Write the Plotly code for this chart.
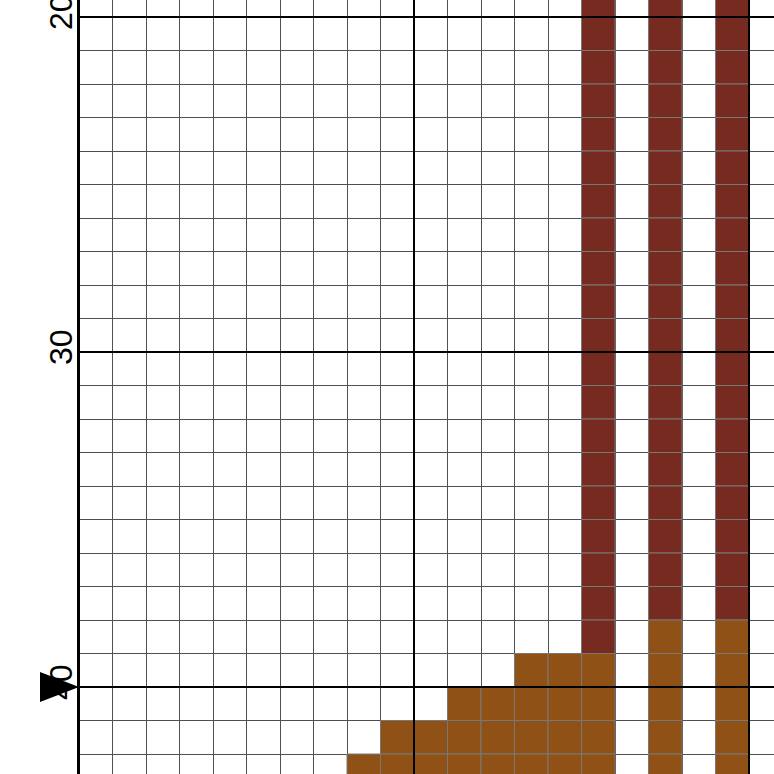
import plotly.graph_objects as go

# stitch chart: one string per row, one character per column
# "." empty, "R" dark red thread, "B" brown thread
first_row = 19
stitch_rows = [
    "...............R.R.R.",  # 19
    "...............R.R.R.",  # 20
    "...............R.R.R.",  # 21
    "...............R.R.R.",  # 22
    "...............R.R.R.",  # 23
    "...............R.R.R.",  # 24
    "...............R.R.R.",  # 25
    "...............R.R.R.",  # 26
    "...............R.R.R.",  # 27
    "...............R.R.R.",  # 28
    "...............R.R.R.",  # 29
    "...............R.R.R.",  # 30
    "...............R.R.R.",  # 31
    "...............R.R.R.",  # 32
    "...............R.R.R.",  # 33
    "...............R.R.R.",  # 34
    "...............R.R.R.",  # 35
    "...............R.R.R.",  # 36
    "...............R.R.R.",  # 37
    "...............R.B.B.",  # 38
    ".............BBB.B.B.",  # 39
    "...........BBBBB.B.B.",  # 40
    ".........BBBBBBB.B.B.",  # 41
    "........BBBBBBBB.B.B.",  # 42
]
thread_colors = {"R": "#772A1F", "B": "#8F5116"}
y_ticks = [20, 30, 40]
x_majors = [0, 10, 20]
center_row = 40

cell_px = 33.5
fig_size = 774
left_margin = 79
top_value = 19.4925

cells = {k: ([], []) for k in thread_colors}
for i, line in enumerate(stitch_rows):
    for c, ch in enumerate(line):
        if ch in cells:
            cells[ch][0].append(c + 0.5)
            cells[ch][1].append(first_row + i + 0.5)

fig = go.Figure()
for key, (xs, ys) in cells.items():
    fig.add_trace(go.Scatter(
        x=xs, y=ys, mode="markers",
        marker=dict(symbol="square", size=cell_px, color=thread_colors[key],
                    line=dict(color="#787878", width=1)),
        hoverinfo="skip", showlegend=False,
    ))

# heavy lines every 10 stitches, drawn over the stitches
for v in x_majors:
    fig.add_vline(x=v, line=dict(color="black", width=2), layer="above")
for v in y_ticks:
    fig.add_hline(y=v, line=dict(color="black", width=2), layer="above")

# centre marker
fig.add_shape(
    type="path", xref="paper", yref="y",
    xsizemode="pixel", ysizemode="pixel", xanchor=0, yanchor=center_row,
    path="M -39,-15 L 0,0 L -39,15 Z",
    fillcolor="black", line=dict(width=0), layer="above",
)

fig.update_layout(
    width=fig_size, height=fig_size,
    margin=dict(l=left_margin, r=0, t=0, b=0),
    plot_bgcolor="white", paper_bgcolor="white",
    font=dict(family="Liberation Sans, Arial, sans-serif", color="black"),
)
fig.update_xaxes(
    range=[0, (fig_size - left_margin) / cell_px], automargin=False,
    dtick=10, showgrid=True, gridcolor="black", gridwidth=2,
    minor=dict(dtick=1, showgrid=True, gridcolor="#505050", gridwidth=1),
    showticklabels=False, zeroline=False, showline=False, ticks="",
)
fig.update_yaxes(
    range=[top_value + fig_size / cell_px, top_value], automargin=False,
    tickvals=y_ticks, tickangle=-90, tickfont=dict(size=32),
    ticklabeloverflow="allow", ticklabelstandoff=-8,
    showgrid=True, gridcolor="black", gridwidth=2,
    minor=dict(dtick=1, showgrid=True, gridcolor="#505050", gridwidth=1),
    showline=True, linecolor="black", linewidth=2,
    zeroline=False, ticks="",
)

fig.write_html(
    "out.html",
    config={"displayModeBar": False},
    post_script="document.body.style.margin = '0';",
)
